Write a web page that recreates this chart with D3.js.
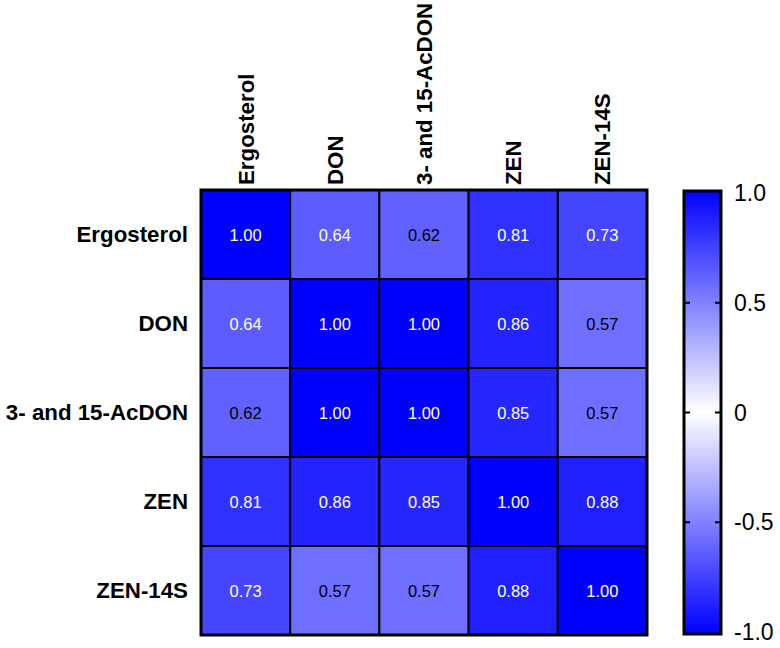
<!DOCTYPE html>
<html>
<head>
<meta charset="utf-8">
<script src="https://cdn.jsdelivr.net/npm/d3@7"></script>
<style>
  body { margin: 0; background: #fff; }
  text { font-family: "Liberation Sans", Arial, sans-serif; }
</style>
</head>
<body>
<div class="container"></div>
<script>
const names = ["Ergosterol", "DON", "3- and 15-AcDON", "ZEN", "ZEN-14S"];

const values = [
    [1.00, 0.64, 0.62, 0.81, 0.73],
    [0.64, 1.00, 1.00, 0.86, 0.57],
    [0.62, 1.00, 1.00, 0.85, 0.57],
    [0.81, 0.86, 0.85, 1.00, 0.88],
    [0.73, 0.57, 0.57, 0.88, 1.00]
];

const legendTicks = [-1.0, -0.5, 0, 0.5, 1.0];

const width = 780, height = 648;
const grid = { left: 201, right: 647, top: 190, bottom: 635 };

const cells = [];
values.forEach((row, i) => {
    row.forEach((v, j) => {
        cells.push({ row: names[i], col: names[j], value: v });
    });
});

const svg = d3.select(".container")
    .append("svg")
    .attr("width", width)
    .attr("height", height);

const xScale = d3.scaleBand()
    .domain(names)
    .range([grid.left, grid.right]);

const yScale = d3.scaleBand()
    .domain(names)
    .range([grid.top, grid.bottom]);

const color = d3.scaleLinear()
    .domain([-1, 0, 1])
    .range(["#0000ff", "#ffffff", "#0000ff"]);

svg.selectAll(".cell")
    .data(cells)
    .join("rect")
    .classed("cell", true)
    .attr("x", d => xScale(d.col))
    .attr("y", d => yScale(d.row))
    .attr("width", xScale.bandwidth())
    .attr("height", yScale.bandwidth())
    .attr("fill", d => color(d.value))
    .attr("stroke", "#000")
    .attr("stroke-width", 2);

svg.append("rect")
    .attr("x", grid.left)
    .attr("y", grid.top)
    .attr("width", grid.right - grid.left)
    .attr("height", grid.bottom - grid.top)
    .attr("fill", "none")
    .attr("stroke", "#000")
    .attr("stroke-width", 3);

svg.selectAll(".cell-label")
    .data(cells)
    .join("text")
    .classed("cell-label", true)
    .attr("x", d => xScale(d.col) + xScale.bandwidth() / 2)
    .attr("y", d => yScale(d.row) + yScale.bandwidth() / 2)
    .attr("text-anchor", "middle")
    .attr("dominant-baseline", "central")
    .attr("font-size", 16.5)
    .attr("fill", d => d.value < 0.63 ? "#000" : "#fff")
    .text(d => d.value.toFixed(2));

// row labels
svg.selectAll(".row-label")
    .data(names)
    .join("text")
    .classed("row-label", true)
    .attr("x", 188)
    .attr("y", d => yScale(d) + yScale.bandwidth() / 2)
    .attr("text-anchor", "end")
    .attr("dominant-baseline", "central")
    .attr("font-size", 22.3)
    .attr("font-weight", "bold")
    .text(d => d);

// column labels
svg.selectAll(".col-label")
    .data(names)
    .join("text")
    .classed("col-label", true)
    .attr("transform", d => `translate(${xScale(d) + xScale.bandwidth() / 2 + 8}, 185) rotate(-90)`)
    .attr("text-anchor", "start")
    .attr("font-size", 22.3)
    .attr("font-weight", "bold")
    .text(d => d);

// colour bar
const bar = { x: 684, w: 37, top: 191, bottom: 634 };

const legendScale = d3.scaleLinear()
    .domain([-1, 1])
    .range([bar.bottom - 2, bar.top + 2]);

const grad = svg.append("defs")
    .append("linearGradient")
    .attr("id", "bar-grad")
    .attr("x1", 0).attr("y1", 0)
    .attr("x2", 0).attr("y2", 1);

d3.range(0, 1.0001, 0.05).forEach(t => {
    grad.append("stop")
        .attr("offset", t)
        .attr("stop-color", color(1 - 2 * t));
});

svg.append("rect")
    .attr("x", bar.x)
    .attr("y", bar.top)
    .attr("width", bar.w)
    .attr("height", bar.bottom - bar.top)
    .attr("fill", "url(#bar-grad)")
    .attr("stroke", "#000")
    .attr("stroke-width", 3);

const innerTicks = legendTicks.filter(t => Math.abs(t) < 1);

svg.selectAll(".tick-l")
    .data(innerTicks)
    .join("line")
    .classed("tick-l", true)
    .attr("x1", bar.x)
    .attr("x2", bar.x + 6)
    .attr("y1", d => legendScale(d))
    .attr("y2", d => legendScale(d))
    .attr("stroke", "#000")
    .attr("stroke-width", 2);

svg.selectAll(".tick-r")
    .data(innerTicks)
    .join("line")
    .classed("tick-r", true)
    .attr("x1", bar.x + bar.w - 6)
    .attr("x2", bar.x + bar.w)
    .attr("y1", d => legendScale(d))
    .attr("y2", d => legendScale(d))
    .attr("stroke", "#000")
    .attr("stroke-width", 2);

svg.selectAll(".legend-label")
    .data(legendTicks)
    .join("text")
    .classed("legend-label", true)
    .attr("x", 734)
    .attr("y", d => legendScale(d))
    .attr("dominant-baseline", "central")
    .attr("font-size", 23)
    .text(d => d === 0 ? "0" : d3.format(".1f")(d).replace("−", "-"));
</script>
</body>
</html>
